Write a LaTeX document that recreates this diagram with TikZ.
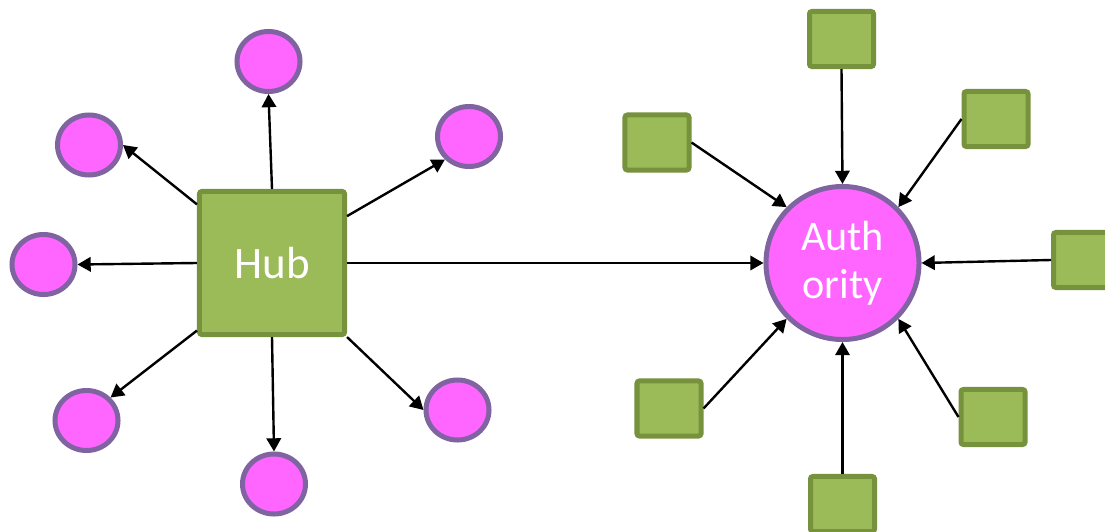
\documentclass[tikz,border=0pt]{standalone}
\usepackage{fontspec}
\setmainfont{Carlito}
\usetikzlibrary{arrows.meta,shapes.geometric}
\definecolor{hubgreen}{HTML}{9BBB59}
\definecolor{hubedge}{HTML}{76923C}
\definecolor{authpink}{HTML}{FF66FF}
\definecolor{authedge}{HTML}{8064A2}
\tikzset{
	greenbox/.style={draw=hubedge, fill=hubgreen, line width=0.125cm, rounded corners=0.06cm,
		minimum width=1.6cm, minimum height=1.375cm, inner sep=0pt},
	pinkdot/.style={ellipse, draw=authedge, fill=authpink, line width=0.125cm,
		minimum width=1.575cm, minimum height=1.5cm, inner sep=0pt},
	link/.style={line width=0.06cm, -{Triangle[length=0.33cm,width=0.36cm]}}
}

\begin{document}
\begin{tikzpicture}[x=0.025cm, y=-0.025cm]
			%%%%% START %%%%%
			\useasboundingbox (0, 0) rectangle (1105, 532);
			
			% hub and its targets
			\node[greenbox, minimum width=3.625cm, minimum height=3.575cm, text=white,
				font=\fontsize{32}{38}\selectfont] (hub) at (272, 263) {Hub};
			
			\node[pinkdot] (pt) at (268.5, 61.5) {};
			\node[pinkdot] (ptl) at (89, 145) {};
			\node[pinkdot] (ptr) at (469, 136.5) {};
			\node[pinkdot] (pl) at (43.5, 264.5) {};
			\node[pinkdot] (pbl) at (86.5, 420.5) {};
			\node[pinkdot] (pb) at (274, 484) {};
			\node[pinkdot] (pbr) at (457.5, 410) {};
			
			\draw[link] (hub.north) -- (pt.south);
			\draw[link] (hub.142) -- (ptl.east);
			\draw[link] (hub.32) -- (ptr.south west);
			\draw[link] (hub.west) -- (pl.east);
			\draw[link] (hub.222) -- (pbl.north east);
			\draw[link] (hub.south) -- (pb.north);
			\draw[link] (hub.south east) -- (pbr.west);
			
			% authority and its sources
			\node[circle, draw=authedge, fill=authpink, line width=0.125cm, minimum size=3.825cm,
				inner sep=0pt, text=white, align=center,
				font=\fontsize{30}{34}\selectfont] (auth) at (842.5, 263) {Auth\\ority};
			
			\node[greenbox] (st) at (841.5, 39) {};
			\node[greenbox] (stl) at (657, 142.5) {};
			\node[greenbox] (str) at (996, 119) {};
			\node[greenbox] (sr) at (1085.5, 260) {};
			\node[greenbox] (sbl) at (669, 408.5) {};
			\node[greenbox] (sbr) at (993, 417) {};
			\node[greenbox] (sb) at (842.5, 504) {};
			
			\draw[link] (st.south) -- (auth.north);
			\draw[link] (stl.east) -- (auth.north west);
			\draw[link] (str.west) -- (auth.north east);
			\draw[link] (sr.west) -- (auth.east);
			\draw[link] (sbr.west) -- (auth.south east);
			\draw[link] (sbl.east) -- (auth.south west);
			\draw[link] (sb.north) -- (auth.south);
			
			\draw[link] (hub.east) -- (auth.west);
			%%%%% END %%%%%
\end{tikzpicture}
\end{document}
